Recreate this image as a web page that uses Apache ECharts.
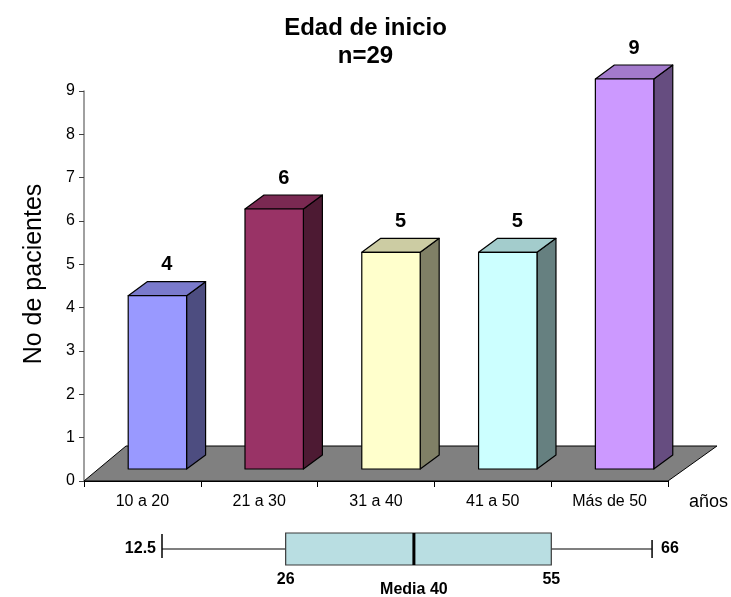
<!DOCTYPE html>
<html>
<head>
<meta charset="utf-8">
<title>Edad de inicio</title>
<script src="https://cdn.jsdelivr.net/npm/echarts@6/dist/echarts.min.js"></script>
<style>
  html, body { margin: 0; padding: 0; background: #ffffff; }
  #chart { width: 731px; height: 597px; }
</style>
</head>
<body>
<div id="chart"></div>
<script>
// Age groups and patient counts
const categorias = ['10 a 20', '21 a 30', '31 a 40', '41 a 50', 'Más de 50'];
const pacientes = [4, 6, 5, 5, 9];
// Y axis range and step
const yMax = 9;
const yPaso = 1;
// Age summary: minimum, first quartile, median, third quartile, maximum
const edadCaja = [12.5, 26, 40, 55, 66];

// Face colours for each bar: front, top, side
const colFrente = ['#9999ff', '#993366', '#ffffcc', '#ccffff', '#cc99ff'];
const colTecho  = ['#7a7acc', '#7a2952', '#cccca3', '#a3cccc', '#a37acc'];
const colLado   = ['#4d4d80', '#4d1a33', '#808066', '#668080', '#664d80'];

const FONT = '"Liberation Sans", Arial, sans-serif';

// 3D projection offsets (pixels)
const FRENTE_DX = 15, FRENTE_DY = -12;   // bar front plane inside the floor
const PROF_DX = 19, PROF_DY = -14;       // bar depth
const SUELO_DY = -35, SUELO_DXL = 42, SUELO_DXR = 49; // floor depth

function dibujarSuelo(params, api) {
  const bw = api.size([1, 0])[0];
  const a = api.coord([0, 0]);
  const b = api.coord([categorias.length - 1, 0]);
  const l = a[0] - bw / 2, r = b[0] + bw / 2, y = a[1];
  return {
    type: 'polygon',
    shape: { points: [[l, y], [r, y], [r + SUELO_DXR, y + SUELO_DY], [l + SUELO_DXL, y + SUELO_DY]] },
    style: { fill: '#808080', stroke: '#000000', lineWidth: 1 }
  };
}

function dibujarBarra(params, api) {
  const i = api.value(0), v = api.value(1);
  const base = api.coord([i, 0]);
  const cima = api.coord([i, v]);
  const bw = api.size([1, 0])[0];
  const w = bw * 0.5;
  const x0 = base[0] - w / 2 + FRENTE_DX;
  const x1 = x0 + w;
  const yb = base[1] + FRENTE_DY;
  const yt = cima[1] + FRENTE_DY;
  const borde = { stroke: '#000000', lineWidth: 1.2, lineJoin: 'round' };
  return {
    type: 'group',
    children: [
      { type: 'polygon', shape: { points: [[x1, yt], [x1 + PROF_DX, yt + PROF_DY], [x1 + PROF_DX, yb + PROF_DY], [x1, yb]] },
        style: Object.assign({ fill: colLado[i] }, borde) },
      { type: 'polygon', shape: { points: [[x0, yt], [x1, yt], [x1 + PROF_DX, yt + PROF_DY], [x0 + PROF_DX, yt + PROF_DY]] },
        style: Object.assign({ fill: colTecho[i] }, borde) },
      { type: 'rect', shape: { x: x0, y: yt, width: w, height: yb - yt },
        style: Object.assign({ fill: colFrente[i] }, borde) },
      { type: 'text', style: { text: String(v), x: (x0 + x1) / 2 + PROF_DX / 2, y: yt + PROF_DY - 17,
        align: 'center', verticalAlign: 'middle', fill: '#000000', font: 'bold 20px ' + FONT } }
    ]
  };
}

function dibujarCaja(params, api) {
  const v = [0, 1, 2, 3, 4].map(k => api.value(k));
  const p = v.map(x => api.coord([x, 0]));
  const cy = p[0][1];
  const h = api.size([0, 1])[1];
  const top = cy - h / 2, bot = cy + h / 2;
  const fuente = 'bold 16px ' + FONT;
  const txt = (t, x, y, align) => ({ type: 'text',
    style: { text: t, x: x, y: y, align: align, verticalAlign: 'middle', fill: '#000000', font: fuente } });
  return {
    type: 'group',
    children: [
      { type: 'line', shape: { x1: p[0][0], y1: cy, x2: p[1][0], y2: cy }, style: { stroke: '#7f7f7f', lineWidth: 2 } },
      { type: 'line', shape: { x1: p[3][0], y1: cy, x2: p[4][0], y2: cy }, style: { stroke: '#7f7f7f', lineWidth: 2 } },
      { type: 'line', shape: { x1: p[0][0], y1: cy - 15, x2: p[0][0], y2: cy + 9 }, style: { stroke: '#000000', lineWidth: 1.5 } },
      { type: 'line', shape: { x1: p[4][0], y1: cy - 9, x2: p[4][0], y2: cy + 9 }, style: { stroke: '#000000', lineWidth: 1.5 } },
      { type: 'rect', shape: { x: p[1][0], y: top, width: p[3][0] - p[1][0], height: h },
        style: { fill: '#b9dee2', stroke: '#3a3a3a', lineWidth: 1.2 } },
      { type: 'line', shape: { x1: p[2][0], y1: top, x2: p[2][0], y2: bot }, style: { stroke: '#000000', lineWidth: 3 } },
      txt(String(v[0]), p[0][0] - 6, cy, 'right'),
      txt(String(v[4]), p[4][0] + 9, cy, 'left'),
      txt(String(v[1]), p[1][0], bot + 15, 'center'),
      txt(String(v[3]), p[3][0], bot + 15, 'center'),
      txt('Media ' + v[2], p[2][0], bot + 25, 'center')
    ]
  };
}

const chart = echarts.init(document.getElementById('chart'), null, { renderer: 'canvas' });
chart.setOption({
  backgroundColor: '#ffffff',
  animation: false,
  title: {
    text: 'Edad de inicio\nn=29',
    left: 'center',
    top: 9,
    textStyle: { fontFamily: FONT, fontSize: 24, fontWeight: 'bold', color: '#000000', lineHeight: 28 }
  },
  grid: [
    { left: 84, top: 91, width: 584, height: 390 },
    { left: 47.5, top: 533, width: 641.2, height: 32 }
  ],
  xAxis: [
    {
      gridIndex: 0, type: 'category', data: categorias, boundaryGap: true,
      name: 'años', nameLocation: 'end', nameGap: 21,
      nameTextStyle: { fontFamily: FONT, fontSize: 18, color: '#000000', verticalAlign: 'top', padding: [12, 0, 0, 0] },
      axisLine: { lineStyle: { color: '#000000', width: 1 } },
      axisTick: { show: true, length: 6, lineStyle: { color: '#000000' } },
      axisLabel: { margin: 13, fontFamily: FONT, fontSize: 16, color: '#000000' },
      splitLine: { show: false }
    },
    { gridIndex: 1, type: 'value', min: 0, max: 70, show: false }
  ],
  yAxis: [
    {
      gridIndex: 0, type: 'value', min: 0, max: yMax, interval: yPaso,
      name: 'No de pacientes', nameLocation: 'middle', nameGap: 37,
      nameTextStyle: { fontFamily: FONT, fontSize: 25, color: '#000000', padding: [0, 0, 0, 24] },
      axisLine: { show: true, lineStyle: { color: '#808080', width: 1.5 } },
      axisTick: { show: true, length: 5, lineStyle: { color: '#404040' } },
      axisLabel: { margin: 9, fontFamily: FONT, fontSize: 16, color: '#000000' },
      splitLine: { show: false }
    },
    { gridIndex: 1, type: 'category', data: ['edad'], show: false }
  ],
  series: [
    {
      type: 'custom', name: 'suelo', xAxisIndex: 0, yAxisIndex: 0, z: 1, clip: false,
      renderItem: dibujarSuelo, data: [[0, 0]], silent: true
    },
    {
      type: 'custom', name: 'pacientes', xAxisIndex: 0, yAxisIndex: 0, z: 2, clip: false,
      renderItem: dibujarBarra, encode: { x: 0, y: 1 },
      data: pacientes.map((v, i) => [i, v])
    },
    {
      type: 'custom', name: 'edad', xAxisIndex: 1, yAxisIndex: 1, z: 2, clip: false,
      renderItem: dibujarCaja, encode: { x: [0, 1, 2, 3, 4], y: 5 },
      data: [edadCaja.concat([0])]
    }
  ]
});
</script>
</body>
</html>
